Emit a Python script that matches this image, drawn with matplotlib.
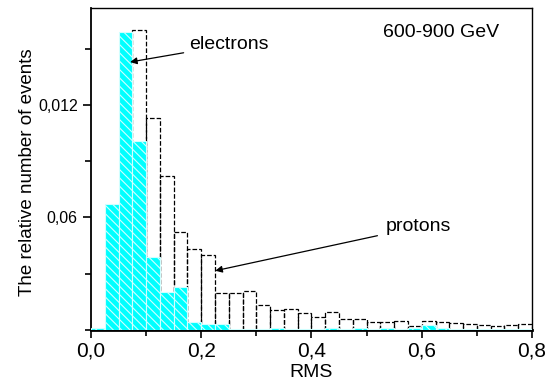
import numpy as np
import matplotlib.pyplot as plt
from matplotlib.ticker import MultipleLocator

plt.rcParams['font.family'] = ['Liberation Sans', 'DejaVu Sans']
plt.rcParams['hatch.linewidth'] = 0.8

# bins of width 0.025 from 0 to 0.8
bin_width = 0.025
bin_left = np.arange(0, 0.8, bin_width)

electrons = [0.00008, 0.0067, 0.0159, 0.0101, 0.0039, 0.0020, 0.0023, 0.00044,
             0.0003, 0.0003, 0.00005, 0.00005, 0.00005, 0.0001, 0.00005, 0.00005,
             0.00005, 0.0001, 0.00005, 0.0001, 0.00005, 0.0001, 0.00005, 0.0001,
             0.00027, 0.0001, 0.00005, 0.00005, 0.00003, 0.00003, 0.00003, 0.00003]

protons = [0.0, 0.0, 0.0, 0.0160, 0.0113, 0.0082, 0.0052, 0.0043,
           0.0040, 0.00196, 0.00196, 0.0021, 0.00135, 0.00105, 0.00114, 0.00092,
           0.00071, 0.00094, 0.0006, 0.0006, 0.00043, 0.0004, 0.0005, 0.0002,
           0.00048, 0.0004, 0.00037, 0.0003, 0.00025, 0.0002, 0.00028, 0.00032]

yticks = [0.006, 0.012]
ytick_labels = ["0,06", "0,012"]
xticks = [0.0, 0.2, 0.4, 0.6, 0.8]
xtick_labels = ["0,0", "0,2", "0,4", "0,6", "0,8"]

fig = plt.figure(figsize=(5.56, 3.83), dpi=100)
ax = fig.add_axes([0.1637, 0.1384, 0.7931, 0.8407])

# protons: dashed outline
ax.bar(bin_left, protons, width=bin_width, align='edge', fill=False,
       edgecolor='black', linestyle='--', linewidth=0.9, zorder=2)
# electrons: cyan with white hatch
ax.bar(bin_left, electrons, width=bin_width, align='edge', facecolor='#00ffff',
       edgecolor='#d0ffff', hatch='\\\\\\\\', linewidth=0.8, zorder=3)

ax.set_xlim(0, 0.8)
ax.set_ylim(0, 0.01717)
ax.set_xticks(xticks)
ax.set_xticklabels(xtick_labels, fontsize=15)
ax.xaxis.set_minor_locator(MultipleLocator(0.1))
ax.set_yticks(yticks)
ax.set_yticklabels(ytick_labels, fontsize=11.5)
ax.yaxis.set_minor_locator(MultipleLocator(0.003))
ax.tick_params(which='major', direction='out', length=6, width=1.2)
ax.tick_params(which='minor', direction='out', length=4, width=1.2)
ax.tick_params(axis='x', pad=2)

for side in ['top', 'right']:
    ax.spines[side].set_linewidth(1.0)
ax.spines['left'].set_linewidth(1.3)
ax.spines['bottom'].set_linewidth(2.0)

ax.set_xlabel("RMS", fontsize=14, labelpad=3)
ax.set_ylabel("The relative number of events", fontsize=13.5)
ax.yaxis.set_label_coords(-0.125, 0.49)

ax.text(0.529, 0.01584, "600-900 GeV", fontsize=14, va='center', ha='left')

ax.annotate("electrons", xy=(0.0709, 0.01429), xytext=(0.178, 0.0152),
            fontsize=14, va='center', ha='left',
            arrowprops=dict(arrowstyle='-|>', color='black', lw=0.9,
                            shrinkA=2, shrinkB=0, mutation_scale=10))
ax.annotate("protons", xy=(0.2255, 0.00316), xytext=(0.5345, 0.0055),
            fontsize=14, va='center', ha='left',
            arrowprops=dict(arrowstyle='-|>', color='black', lw=0.9,
                            shrinkA=4, shrinkB=0, mutation_scale=10))

fig.savefig("out.png", dpi=100)
